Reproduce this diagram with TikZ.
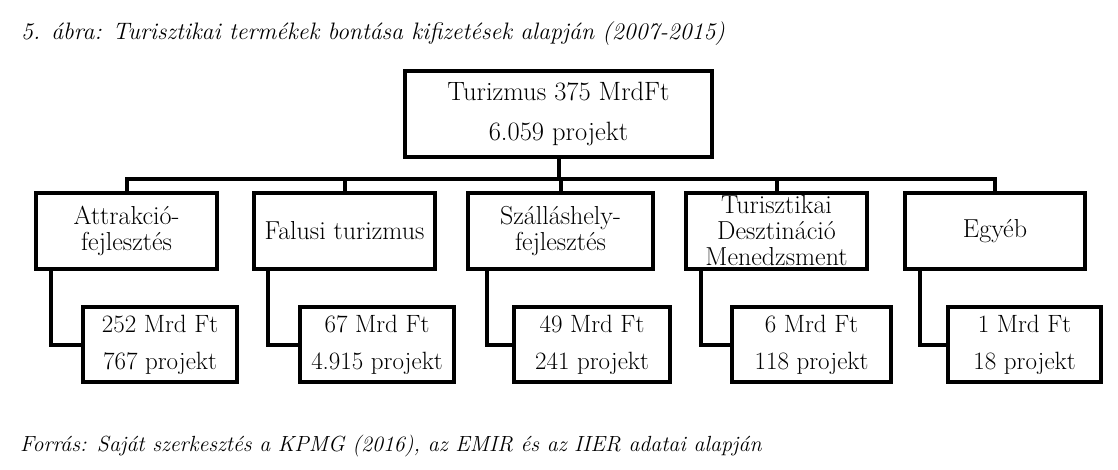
\documentclass[tikz,border=0pt]{standalone}
\usepackage{fontspec}
\usepackage{graphicx}
\begin{document}
\begin{tikzpicture}[x=1pt,y=-1pt,
  box/.style={draw=black,line width=4pt,inner sep=0pt,align=center,font=\fontsize{26}{26}\selectfont},
  topbox/.style={box,font=\fontsize{26.5}{40}\selectfont},
  valbox/.style={box,font=\fontsize{25}{37}\selectfont},
  conn/.style={draw=black,line width=4pt,line join=miter},
  caption/.style={inner sep=0pt,anchor=base west,font=\fontsize{23.8}{27}\selectfont\itshape}]
\useasboundingbox (0,0) rectangle (1118,470);
\fill[white] (0,0) rectangle (1118,470);
\node[caption] (title) at (21,40) {5. ábra: Turisztikai termékek bontása kifizetések alapján (2007-2015)};
\node[caption,font=\fontsize{21.9}{27}\selectfont\itshape] (src) at (20,451) {Forrás: Saját szerkesztés a KPMG (2016), az EMIR és az IIER adatai alapján};
\node[topbox,minimum width=307pt,minimum height=86pt] (top) at (558.5,114) {Turizmus 375 MrdFt\\6.059 projekt};
\node[box,minimum width=181pt,minimum height=76pt] (a) at (126.5,231) {Attrakció-\\fejlesztés};
\node[box,minimum width=181pt,minimum height=76pt] (b) at (344.5,231) {Falusi turizmus};
\node[box,minimum width=185pt,minimum height=76pt] (c) at (560.5,231) {Szálláshely-\\fejlesztés};
\node[box,minimum width=181pt,minimum height=76pt] (d) at (776.5,231) {Turisztikai\\Desztináció\\Menedzsment};
\node[box,minimum width=180pt,minimum height=76pt] (e) at (995,231) {Egyéb};
\node[valbox,minimum width=154pt,minimum height=75pt] (a2) at (160,344.5) {252 Mrd Ft\\767 projekt};
\node[valbox,minimum width=154pt,minimum height=75pt] (b2) at (377,344.5) {67 Mrd Ft\\4.915 projekt};
\node[valbox,minimum width=156pt,minimum height=75pt] (c2) at (592,344.5) {49 Mrd Ft\\241 projekt};
\node[valbox,minimum width=159pt,minimum height=75pt] (d2) at (811.5,344.5) {6 Mrd Ft\\118 projekt};
\node[valbox,minimum width=153pt,minimum height=75pt] (e2) at (1024.5,344.5) {1 Mrd Ft\\18 projekt};
\coordinate (bar) at ([yshift=-20pt]top.south);
\foreach \n in {a,b,c,d,e} \draw[conn] (top.south) -- (bar) -| (\n.north);
\draw[conn] ([xshift=17pt]a.south west) |- (a2.west);
\draw[conn] ([xshift=16pt]b.south west) |- (b2.west);
\draw[conn] ([xshift=21pt]c.south west) |- (c2.west);
\draw[conn] ([xshift=17pt]d.south west) |- (d2.west);
\draw[conn] ([xshift=17pt]e.south west) |- (e2.west);
\end{tikzpicture}
\end{document}
